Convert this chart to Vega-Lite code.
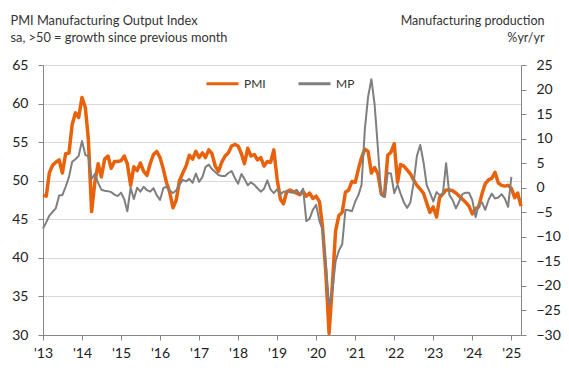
{
  "$schema": "https://vega.github.io/schema/vega-lite/v6.json",
  "width": 478,
  "height": 270,
  "autosize": {"type": "none"},
  "padding": {"left": 43, "top": 65, "right": 48, "bottom": 43},
  "background": "white",
  "config": {
    "view": {"stroke": null},
    "font": "Lato",
    "axis": {"labelFont": "Lato", "titleFont": "Lato"},
    "legend": {"labelFont": "Lato"}
  },
  "data": {
    "format": {"parse": {"d": "date:'%Y-%m'"}},
    "values": [
      {"d": "2013-01", "pmi": 48.1, "mp": -8.3}, {"d": "2013-02", "pmi": 48.0, "mp": -7.0}, {"d": "2013-03", "pmi": 51.0, "mp": -5.7}, {"d": "2013-04", "pmi": 52.0, "mp": -4.9}, {"d": "2013-05", "pmi": 52.4, "mp": -4.2}, {"d": "2013-06", "pmi": 52.7, "mp": -1.6}, {"d": "2013-07", "pmi": 51.0, "mp": -1.5}, {"d": "2013-08", "pmi": 53.5, "mp": 0.2}, {"d": "2013-09", "pmi": 53.6, "mp": 2.2}, {"d": "2013-10", "pmi": 57.3, "mp": 5.3}, {"d": "2013-11", "pmi": 58.8, "mp": 5.8}, {"d": "2013-12", "pmi": 58.2, "mp": 6.5},
      {"d": "2014-01", "pmi": 60.8, "mp": 9.5}, {"d": "2014-02", "pmi": 59.5, "mp": 6.7}, {"d": "2014-03", "pmi": 55.5, "mp": 6.4}, {"d": "2014-04", "pmi": 46.0, "mp": 1.8}, {"d": "2014-05", "pmi": 49.8, "mp": 2.8}, {"d": "2014-06", "pmi": 52.2, "mp": 1.0}, {"d": "2014-07", "pmi": 50.5, "mp": -0.4}, {"d": "2014-08", "pmi": 52.8, "mp": -0.6}, {"d": "2014-09", "pmi": 53.2, "mp": -0.7}, {"d": "2014-10", "pmi": 51.6, "mp": -0.9}, {"d": "2014-11", "pmi": 52.5, "mp": -1.4}, {"d": "2014-12", "pmi": 52.5, "mp": -1.7},
      {"d": "2015-01", "pmi": 52.6, "mp": -1.0}, {"d": "2015-02", "pmi": 53.2, "mp": -2.4}, {"d": "2015-03", "pmi": 52.2, "mp": -4.8}, {"d": "2015-04", "pmi": 49.4, "mp": 0.0}, {"d": "2015-05", "pmi": 51.8, "mp": -2.3}, {"d": "2015-06", "pmi": 51.3, "mp": 0.0}, {"d": "2015-07", "pmi": 52.3, "mp": -0.8}, {"d": "2015-08", "pmi": 51.2, "mp": 0.2}, {"d": "2015-09", "pmi": 50.7, "mp": -0.5}, {"d": "2015-10", "pmi": 52.2, "mp": -0.8}, {"d": "2015-11", "pmi": 53.4, "mp": -0.1}, {"d": "2015-12", "pmi": 53.8, "mp": -1.5},
      {"d": "2016-01", "pmi": 53.0, "mp": -2.5}, {"d": "2016-02", "pmi": 51.5, "mp": -0.1}, {"d": "2016-03", "pmi": 49.8, "mp": 0.2}, {"d": "2016-04", "pmi": 48.5, "mp": -0.5}, {"d": "2016-05", "pmi": 46.5, "mp": -1.1}, {"d": "2016-06", "pmi": 47.5, "mp": -0.5}, {"d": "2016-07", "pmi": 50.0, "mp": 0.6}, {"d": "2016-08", "pmi": 51.0, "mp": 1.6}, {"d": "2016-09", "pmi": 51.9, "mp": 1.3}, {"d": "2016-10", "pmi": 53.3, "mp": 1.8}, {"d": "2016-11", "pmi": 52.8, "mp": 1.0}, {"d": "2016-12", "pmi": 53.8, "mp": 2.9},
      {"d": "2017-01", "pmi": 53.0, "mp": 1.2}, {"d": "2017-02", "pmi": 53.6, "mp": 2.2}, {"d": "2017-03", "pmi": 53.0, "mp": 4.2}, {"d": "2017-04", "pmi": 54.0, "mp": 4.7}, {"d": "2017-05", "pmi": 53.5, "mp": 3.8}, {"d": "2017-06", "pmi": 51.9, "mp": 3.2}, {"d": "2017-07", "pmi": 51.2, "mp": 2.6}, {"d": "2017-08", "pmi": 52.4, "mp": 2.4}, {"d": "2017-09", "pmi": 53.2, "mp": 2.4}, {"d": "2017-10", "pmi": 53.6, "mp": 3.0}, {"d": "2017-11", "pmi": 54.5, "mp": 3.4}, {"d": "2017-12", "pmi": 54.7, "mp": 2.0},
      {"d": "2018-01", "pmi": 54.5, "mp": 0.8}, {"d": "2018-02", "pmi": 53.5, "mp": 2.8}, {"d": "2018-03", "pmi": 52.2, "mp": 1.8}, {"d": "2018-04", "pmi": 54.2, "mp": 0.5}, {"d": "2018-05", "pmi": 53.2, "mp": 1.1}, {"d": "2018-06", "pmi": 53.4, "mp": 0.6}, {"d": "2018-07", "pmi": 52.7, "mp": -0.1}, {"d": "2018-08", "pmi": 53.0, "mp": -0.8}, {"d": "2018-09", "pmi": 51.9, "mp": -0.2}, {"d": "2018-10", "pmi": 52.5, "mp": 1.5}, {"d": "2018-11", "pmi": 52.4, "mp": -0.4}, {"d": "2018-12", "pmi": 54.0, "mp": -1.1},
      {"d": "2019-01", "pmi": 50.2, "mp": -0.3}, {"d": "2019-02", "pmi": 47.6, "mp": -1.3}, {"d": "2019-03", "pmi": 47.0, "mp": -0.8}, {"d": "2019-04", "pmi": 48.6, "mp": -0.8}, {"d": "2019-05", "pmi": 48.8, "mp": -0.9}, {"d": "2019-06", "pmi": 48.6, "mp": -1.0}, {"d": "2019-07", "pmi": 48.4, "mp": -0.4}, {"d": "2019-08", "pmi": 48.2, "mp": -1.3}, {"d": "2019-09", "pmi": 48.6, "mp": -0.2}, {"d": "2019-10", "pmi": 48.0, "mp": -6.8}, {"d": "2019-11", "pmi": 48.4, "mp": -6.3}, {"d": "2019-12", "pmi": 47.7, "mp": -4.5},
      {"d": "2020-01", "pmi": 48.0, "mp": -3.5}, {"d": "2020-02", "pmi": 47.3, "mp": -6.8}, {"d": "2020-03", "pmi": 44.0, "mp": -8.5}, {"d": "2020-04", "pmi": 38.0, "mp": -15.5}, {"d": "2020-05", "pmi": 30.2, "mp": -24.0}, {"d": "2020-06", "pmi": 36.5, "mp": -21.0}, {"d": "2020-07", "pmi": 43.5, "mp": -15.0}, {"d": "2020-08", "pmi": 45.5, "mp": -12.8}, {"d": "2020-09", "pmi": 45.9, "mp": -11.5}, {"d": "2020-10", "pmi": 48.5, "mp": -4.5}, {"d": "2020-11", "pmi": 48.8, "mp": -4.6}, {"d": "2020-12", "pmi": 49.9, "mp": -4.8},
      {"d": "2021-01", "pmi": 49.8, "mp": -2.8}, {"d": "2021-02", "pmi": 51.6, "mp": -1.4}, {"d": "2021-03", "pmi": 53.0, "mp": 0.6}, {"d": "2021-04", "pmi": 54.1, "mp": 12.0}, {"d": "2021-05", "pmi": 53.8, "mp": 18.5}, {"d": "2021-06", "pmi": 51.0, "mp": 22.1}, {"d": "2021-07", "pmi": 51.7, "mp": 17.0}, {"d": "2021-08", "pmi": 50.9, "mp": 8.0}, {"d": "2021-09", "pmi": 48.3, "mp": -1.5}, {"d": "2021-10", "pmi": 48.0, "mp": -1.9}, {"d": "2021-11", "pmi": 53.3, "mp": 3.0}, {"d": "2021-12", "pmi": 53.7, "mp": 2.9},
      {"d": "2022-01", "pmi": 54.8, "mp": -1.1}, {"d": "2022-02", "pmi": 49.8, "mp": 0.6}, {"d": "2022-03", "pmi": 52.1, "mp": -1.2}, {"d": "2022-04", "pmi": 51.9, "mp": -3.0}, {"d": "2022-05", "pmi": 51.4, "mp": -4.1}, {"d": "2022-06", "pmi": 50.9, "mp": -3.0}, {"d": "2022-07", "pmi": 50.1, "mp": 1.0}, {"d": "2022-08", "pmi": 49.4, "mp": 6.5}, {"d": "2022-09", "pmi": 48.9, "mp": 8.7}, {"d": "2022-10", "pmi": 48.4, "mp": 5.3}, {"d": "2022-11", "pmi": 47.1, "mp": 0.5}, {"d": "2022-12", "pmi": 45.9, "mp": -1.0},
      {"d": "2023-01", "pmi": 46.6, "mp": -2.8}, {"d": "2023-02", "pmi": 45.3, "mp": -0.9}, {"d": "2023-03", "pmi": 47.8, "mp": -1.5}, {"d": "2023-04", "pmi": 48.3, "mp": -1.2}, {"d": "2023-05", "pmi": 48.8, "mp": 5.0}, {"d": "2023-06", "pmi": 48.8, "mp": -1.5}, {"d": "2023-07", "pmi": 48.7, "mp": -2.5}, {"d": "2023-08", "pmi": 48.4, "mp": -4.2}, {"d": "2023-09", "pmi": 48.0, "mp": -2.8}, {"d": "2023-10", "pmi": 47.6, "mp": -1.3}, {"d": "2023-11", "pmi": 47.2, "mp": -1.0}, {"d": "2023-12", "pmi": 46.7, "mp": -1.0},
      {"d": "2024-01", "pmi": 45.7, "mp": -2.5}, {"d": "2024-02", "pmi": 46.4, "mp": -6.0}, {"d": "2024-03", "pmi": 46.6, "mp": -3.5}, {"d": "2024-04", "pmi": 48.3, "mp": -3.0}, {"d": "2024-05", "pmi": 49.6, "mp": -4.5}, {"d": "2024-06", "pmi": 50.1, "mp": -2.5}, {"d": "2024-07", "pmi": 50.3, "mp": -1.2}, {"d": "2024-08", "pmi": 51.1, "mp": -2.2}, {"d": "2024-09", "pmi": 49.7, "mp": -2.0}, {"d": "2024-10", "pmi": 49.4, "mp": -1.3}, {"d": "2024-11", "pmi": 49.3, "mp": -2.2}, {"d": "2024-12", "pmi": 49.4, "mp": -3.9},
      {"d": "2025-01", "pmi": 49.0, "mp": 2.2}, {"d": "2025-02", "pmi": 47.8, "mp": null}, {"d": "2025-03", "pmi": 48.4, "mp": null}, {"d": "2025-04", "pmi": 46.7, "mp": null}
    ]
  },
  "encoding": {
    "x": {
      "field": "d",
      "type": "temporal",
      "scale": {"domain": [{"year": 2013, "month": 1, "date": 1}, {"year": 2025, "month": 4, "date": 1}]},
      "axis": {
        "title": null,
        "format": "'%y",
        "tickCount": {"interval": "year", "step": 1},
        "grid": false,
        "domainColor": "#868686",
        "tickColor": "#868686",
        "tickSize": 5,
        "labelFontSize": 14,
        "labelColor": "#222222",
        "labelPadding": 6,
        "labelFlush": false,
        "labelOverlap": false
      }
    }
  },
  "layer": [
    {
      "mark": {"type": "line", "strokeWidth": 3.5, "strokeJoin": "round"},
      "encoding": {
        "y": {
          "field": "pmi",
          "type": "quantitative",
          "scale": {"domain": [30, 65], "nice": false, "zero": false},
          "axis": {
            "orient": "left",
            "values": [30, 35, 40, 45, 50, 55, 60, 65],
            "grid": true,
            "gridColor": "#D9D9D9",
            "gridWidth": 1,
            "domainColor": "#868686",
            "tickColor": "#868686",
            "tickSize": 5,
            "labelFontSize": 14,
            "labelColor": "#222222",
            "labelPadding": 10,
            "title": ["PMI Manufacturing Output Index", "sa, >50 = growth since previous month"],
            "titleAngle": 0,
            "titleAlign": "left",
            "titleBaseline": "alphabetic",
            "titleX": -33,
            "titleY": -41,
            "titleFontSize": 12.8,
            "titleFontWeight": "normal",
            "titleColor": "#333333",
            "titleLineHeight": 17
          }
        },
        "color": {
          "datum": "PMI",
          "type": "nominal",
          "scale": {"domain": ["PMI", "MP"], "range": ["#E8620C", "#7F7F7F"]},
          "legend": {
            "title": null,
            "orient": "none",
            "direction": "horizontal",
            "legendX": 162,
            "legendY": 1,
            "symbolType": "stroke",
            "symbolSize": 1024,
            "symbolStrokeWidth": 3,
            "labelFontSize": 12,
            "labelColor": "#333333",
            "labelOffset": 4,
            "columnPadding": 26
          }
        }
      }
    },
    {
      "mark": {"type": "line", "strokeWidth": 2, "strokeJoin": "round"},
      "encoding": {
        "y": {
          "field": "mp",
          "type": "quantitative",
          "scale": {"domain": [-30, 25], "nice": false, "zero": false},
          "axis": {
            "orient": "right",
            "values": [-30, -25, -20, -15, -10, -5, 0, 5, 10, 15, 20, 25],
            "grid": false,
            "domainColor": "#868686",
            "tickColor": "#868686",
            "tickSize": 5,
            "labelFontSize": 14,
            "labelColor": "#222222",
            "labelPadding": 10,
            "title": ["Manufacturing production", "%yr/yr"],
            "titleAngle": 0,
            "titleAlign": "right",
            "titleBaseline": "alphabetic",
            "titleX": 23,
            "titleY": -41,
            "titleFontSize": 12.5,
            "titleFontWeight": "normal",
            "titleColor": "#333333",
            "titleLineHeight": 17
          }
        },
        "color": {"datum": "MP", "type": "nominal"}
      }
    }
  ],
  "resolve": {"scale": {"y": "independent"}}
}
